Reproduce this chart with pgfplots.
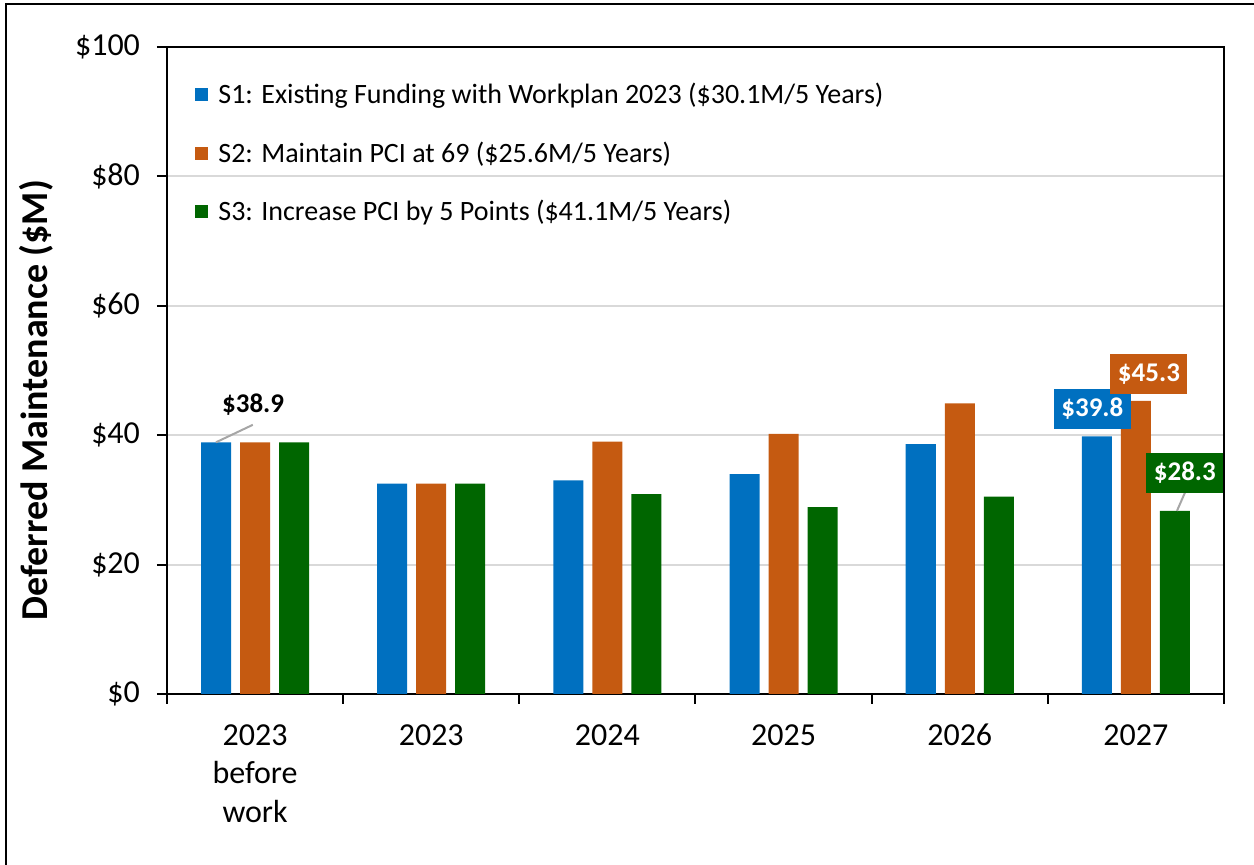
\documentclass[border=0pt]{standalone}
\usepackage{fontspec}
\setmainfont{Carlito}
\usepackage{pgfplots}
\pgfplotsset{compat=1.18}
\definecolor{sOne}{HTML}{0070C0}
\definecolor{sTwo}{HTML}{C55A11}
\definecolor{sThree}{HTML}{006600}
\definecolor{gridgray}{HTML}{D9D9D9}
\pgfplotsset{sqlegend/.style={legend image code/.code={\fill[##1] (0pt,-3.25pt) rectangle (6.5pt,3.25pt);}}}

\begin{document}
\begin{tikzpicture}
\path[use as bounding box] (-83.5pt,-85.5pt) rectangle (543.5pt,347pt);
\draw[line width=1pt] (-80.5pt,-100pt) -- (-80.5pt,345.2pt) -- (560pt,345.2pt);
\begin{axis}[
  scale only axis,
  width=528.5pt, height=323.5pt,
  ybar=4.5pt, bar width=15pt,
  xmin=-0.5, xmax=5.5,
  ymin=0, ymax=100,
  xtick={-0.5,0.5,...,5.5},
  x tick label as interval,
  xticklabels={{\strut 2023\\before\\work},\strut 2023,\strut 2024,\strut 2025,\strut 2026,\strut 2027,{}},
  xticklabel style={align=center, font=\fontsize{16}{19.3}\selectfont, yshift=-3.6pt},
  ytick={0,20,...,100},
  yticklabels={\$0,\$20,\$40,\$60,\$80,\$100},
  yticklabel style={font=\fontsize{16}{19}\selectfont, xshift=-5pt},
  tick align=outside,
  tick pos=left,
  major tick length=5pt,
  tick style={line width=1pt, black},
  axis line style={line width=1pt, black},
  ymajorgrids=true,
  grid style={gridgray, line width=1pt},
  ylabel={Deferred Maintenance (\$M)},
  ylabel style={font=\bfseries\fontsize{19}{22}\selectfont, at={(rel axis cs:-0.124,0.454)}, anchor=center},
  legend style={draw=none, fill=none, at={(rel axis cs:0.0265,0.951)}, anchor=north west,
    font=\fontsize{14}{16}\selectfont, row sep=13.5pt, inner sep=0pt,
    /tikz/every odd column/.append style={column sep=3pt}},
  legend cell align=left,
]
\addplot[fill=sOne, draw=none, sqlegend]
  coordinates {(0,38.9) (1,32.5) (2,33.0) (3,34.0) (4,38.6) (5,39.8)};
\addlegendentry{S1: Existing Funding with Workplan 2023 (\$30.1M/5 Years)}
\addplot[fill=sTwo, draw=none, sqlegend]
  coordinates {(0,38.9) (1,32.5) (2,39.0) (3,40.2) (4,44.9) (5,45.3)};
\addlegendentry{S2: Maintain PCI at 69 (\$25.6M/5 Years)}
\addplot[fill=sThree, draw=none, sqlegend]
  coordinates {(0,38.9) (1,32.5) (2,30.9) (3,28.9) (4,30.5) (5,28.3)};
\addlegendentry{S3: Increase PCI by 5 Points (\$41.1M/5 Years)}

% data labels
\draw[gray!70, line width=1pt] (axis cs:-0.222,38.9) -- (axis cs:-0.013,41.6);
\node[font=\bfseries\fontsize{13.5}{16}\selectfont] at (axis cs:-0.011,44.7) {\$38.9};
\node[fill=sOne, text=white, font=\bfseries\fontsize{13.5}{16}\selectfont, minimum width=38.5pt, minimum height=20pt, inner sep=0pt] at (axis cs:4.753,44.05) {\$39.8};
\node[fill=sTwo, text=white, font=\bfseries\fontsize{13.5}{16}\selectfont, minimum width=38.5pt, minimum height=20pt, inner sep=0pt] at (axis cs:5.074,49.5) {\$45.3};
\draw[gray!70, line width=1pt] (axis cs:5.278,31.1) -- (axis cs:5.233,28.3);
\node[fill=sThree, text=white, font=\bfseries\fontsize{13.5}{16}\selectfont, minimum width=38.5pt, minimum height=20pt, inner sep=0pt] at (axis cs:5.278,34.2) {\$28.3};
\end{axis}
\end{tikzpicture}
\end{document}
